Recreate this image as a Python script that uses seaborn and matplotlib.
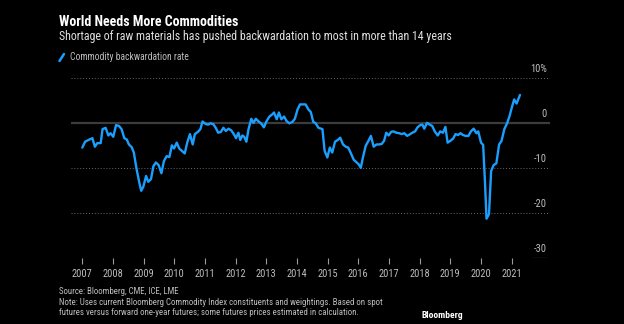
import matplotlib
matplotlib.use("Agg")
import matplotlib.pyplot as plt
import matplotlib.transforms as mtransforms
from matplotlib import font_manager
from matplotlib.lines import Line2D
import seaborn as sns
import pandas as pd

# ---------------- data ----------------
years = [
    2007.00, 2007.09, 2007.20, 2007.33, 2007.41, 2007.49, 2007.60, 2007.66, 2007.76, 2007.85, 2007.92,
    2008.01, 2008.10, 2008.20, 2008.28, 2008.37, 2008.45, 2008.52, 2008.61, 2008.68, 2008.77, 2008.86, 2008.92, 2008.99,
    2009.08, 2009.15, 2009.24, 2009.32, 2009.40, 2009.49, 2009.58, 2009.66, 2009.75, 2009.84, 2009.92, 2009.99,
    2010.08, 2010.16, 2010.24, 2010.34, 2010.42, 2010.51, 2010.60, 2010.67, 2010.77, 2010.85, 2010.92,
    2011.01, 2011.10, 2011.18, 2011.27, 2011.35, 2011.43, 2011.52, 2011.60, 2011.68, 2011.77, 2011.86, 2011.95,
    2012.01, 2012.09, 2012.15, 2012.22, 2012.28, 2012.35, 2012.42, 2012.51, 2012.58, 2012.66, 2012.75, 2012.84, 2012.92,
    2013.01, 2013.10, 2013.18, 2013.25, 2013.34, 2013.41, 2013.49, 2013.58, 2013.66, 2013.75, 2013.85, 2013.93,
    2014.02, 2014.10, 2014.19, 2014.28, 2014.37, 2014.45, 2014.53, 2014.61, 2014.70, 2014.83, 2014.90, 2014.99,
    2015.07, 2015.15, 2015.24, 2015.33, 2015.41, 2015.50, 2015.59, 2015.67, 2015.76, 2015.85, 2015.93,
    2016.01, 2016.08, 2016.15, 2016.24, 2016.33, 2016.41, 2016.50, 2016.59, 2016.67, 2016.76, 2016.84, 2016.91, 2016.99,
    2017.07, 2017.15, 2017.24, 2017.33, 2017.41, 2017.50, 2017.59, 2017.67, 2017.76, 2017.85, 2017.93,
    2018.02, 2018.09, 2018.15, 2018.24, 2018.33, 2018.41, 2018.50, 2018.59, 2018.67, 2018.76, 2018.84, 2018.91,
    2019.00, 2019.09, 2019.17, 2019.25, 2019.33, 2019.41, 2019.50, 2019.59, 2019.67, 2019.76, 2019.85, 2019.91,
    2020.00, 2020.07, 2020.13, 2020.18, 2020.26, 2020.33, 2020.41, 2020.50, 2020.59, 2020.67, 2020.76, 2020.85, 2020.93,
    2021.02, 2021.08, 2021.16, 2021.27,
]
backwardation = [
    -5.4, -4.1, -3.7, -3.3, -5.2, -4.4, -4.4, -1.3, -1.0, -2.7, -2.2,
    -3.0, -0.4, -0.6, -1.3, -3.3, -3.6, -4.7, -5.3, -6.5, -10.2, -13.2, -15.0, -14.1,
    -11.7, -13.0, -12.4, -9.5, -8.7, -9.3, -11.1, -8.4, -7.3, -7.5, -4.9, -5.6,
    -4.3, -5.6, -6.1, -6.7, -4.3, -2.4, -4.7, -2.4, -1.9, -1.3, 0.4,
    -0.1, -0.3, 0.0, -0.2, -1.0, -2.1, -1.9, -1.0, -1.7, -1.2, -1.6, -2.5,
    -3.3, -2.1, -3.7, -2.7, -3.0, -4.1, -1.3, 1.0, 0.1, 1.0, 0.4, -0.1, -0.9,
    0.5, 1.5, 1.9, 2.4, 0.9, 2.4, 0.9, 1.5, 0.5, 0.0, 0.3, 1.0,
    3.1, 4.2, 4.2, 4.2, 3.1, 2.5, 0.3, 0.0, -1.0, -1.3, -6.1, -7.6,
    -5.4, -6.5, -4.1, -3.7, -3.2, -4.7, -5.2, -5.4, -6.7, -8.1, -8.6,
    -9.1, -9.9, -7.6, -5.0, -3.9, -2.8, -5.2, -4.7, -4.7, -4.6, -3.9, -2.1, -2.7,
    -1.9, -1.8, -2.1, -2.2, -2.4, -2.2, -2.8, -2.5, -2.1, -1.8, -0.9,
    -0.4, -0.3, -1.2, 0.1, -0.3, -0.6, -1.9, -2.7, -1.8, -2.1, -0.8, -4.3,
    -3.9, -3.4, -2.4, -2.6, -2.2, -2.6, -2.8, -2.8, -1.8, -1.2, -2.2, -1.8,
    -4.3, -4.8, -13.2, -21.2, -20.2, -10.6, -9.3, -8.9, -4.7, -3.9, -1.3, 0.0, 1.6,
    3.9, 5.3, 4.4, 6.3,
]
x_ticks = list(range(2007, 2022))
x_labels = [str(y) for y in x_ticks]
y_ticks = [10, 0, -10, -20, -30]
y_labels = ["10%", "0", "-10", "-20", "-30"]

title = "World Needs More Commodities"
subtitle = "Shortage of raw materials has pushed backwardation to most in more than 14 years"
series_name = "Commodity backwardation rate"
source = "Source: Bloomberg, CME, ICE, LME"
note1 = "Note: Uses current Bloomberg Commodity Index constituents and weightings. Based on spot"
note2 = "futures versus forward one-year futures; some futures prices estimated in calculation."

df = pd.DataFrame({"year": years, "value": backwardation})

# ---------------- style ----------------
sns.set_theme(style="dark")
names = {f.name for f in font_manager.fontManager.ttflist}
font = next((n for n in ["Liberation Sans Narrow", "DejaVu Sans Condensed", "Roboto Condensed",
                         "Open Sans Condensed", "Liberation Sans"] if n in names), "DejaVu Sans")
plt.rcParams["font.family"] = [font, "DejaVu Sans"]

BG = "black"
BLUE = "#1a9fff"
LABEL = "#bdbdbd"

W, H = 624, 324
fig = plt.figure(figsize=(W / 100, H / 100), dpi=100, facecolor=BG)
ax_l, ax_r, ax_t, ax_b = 71, 550, 78.3, 258.3
ax = fig.add_axes([ax_l / W, 1 - ax_b / H, (ax_r - ax_l) / W, (ax_b - ax_t) / H])
ax.set_facecolor(BG)

# grid lines
for v in [10, -10, -20]:
    ax.axhline(v, color="#6a6a6a", lw=0.7, ls=(0, (1, 2)), zorder=1)
ax.axhline(0, color="#3c3c3c", lw=1.6, zorder=1)
ax.axhline(-30, xmin=(532 - ax_l) / (ax_r - ax_l), xmax=(547 - ax_l) / (ax_r - ax_l),
           color=LABEL, lw=0.8, zorder=1)

sns.lineplot(data=df, x="year", y="value", ax=ax, color=BLUE, lw=1.7, zorder=3)

x0 = 2007 - (82.3 - ax_l) / 30.67
x1 = 2007 + (ax_r - 82.3) / 30.67
ax.set_xlim(x0, x1)
ax.set_ylim(-30, 10)
ax.set_xlabel("")
ax.set_ylabel("")
for s in ax.spines.values():
    s.set_visible(False)
ax.grid(False)

ax.set_xticks(x_ticks)
ax.set_xticklabels(x_labels)
ax.tick_params(axis="x", bottom=True, length=4, width=0.8, color="#9a9a9a",
               labelcolor=LABEL, labelsize=7.5, pad=4)
ax.set_yticks([])

off = mtransforms.ScaledTranslation(-0.03, 0.09, fig.dpi_scale_trans)
trans = mtransforms.blended_transform_factory(ax.transAxes, ax.transData) + off
for v, lab in zip(y_ticks, y_labels):
    ax.text(1.0, v, lab, transform=trans, ha="right", va="center", color=LABEL, fontsize=7.5)

# ---------------- header / footer ----------------
def fy(px):
    return 1 - px / H

fig.text(59 / W, fy(26), title, color="white", fontsize=10, fontweight="bold", va="baseline")
fig.text(59 / W, fy(40), subtitle, color="#e0e0e0", fontsize=8.6, va="baseline")
fig.add_artist(Line2D([59.5 / W, 64 / W], [fy(61), fy(54)], color=BLUE, lw=1.8,
                      transform=fig.transFigure))
fig.text(70 / W, fy(57.5), series_name, color=LABEL, fontsize=6.9, va="center")

fig.text(59 / W, fy(294), source, color=LABEL, fontsize=6.4, va="baseline")
fig.text(59 / W, fy(305), note1, color=LABEL, fontsize=6.4, va="baseline")
fig.text(59 / W, fy(315), note2, color=LABEL, fontsize=6.4, va="baseline")
fig.text(463 / W, fy(315), "Bloomberg", color="white", fontsize=6.8, fontweight="bold",
         ha="right", va="center")

fig.savefig("out.png", dpi=100, facecolor=BG)
